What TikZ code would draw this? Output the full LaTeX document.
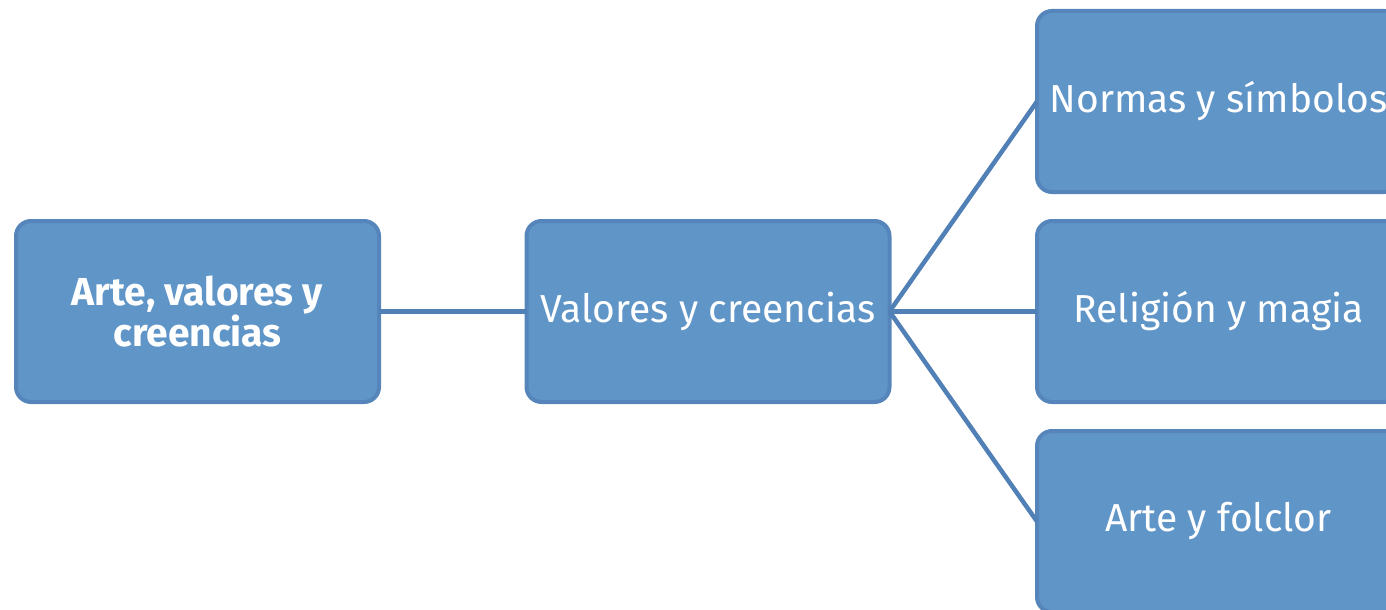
\documentclass[tikz,border=0pt]{standalone}
\usepackage{fontspec}
\setmainfont{Fira Sans}
\definecolor{boxfill}{HTML}{6095C8}
\definecolor{boxline}{HTML}{5585BA}
\definecolor{linkline}{HTML}{5080B5}

\begin{document}
\begin{tikzpicture}[x=1pt,y=-1pt]

      \useasboundingbox (0,0) rectangle (1386,610);
      \clip (0,0) rectangle (1386,610);

      \begin{scope}[every node/.style={rectangle,rounded corners=15pt,draw=boxline,line width=4pt,
          fill=boxfill,text=white,minimum width=363pt,minimum height=181pt,outer sep=0pt,
          align=center,font=\fontsize{39}{40}\selectfont}]
        \node (arte)     at (197.5,311.5)  {\bfseries Arte, valores y\\\bfseries creencias};
        \node (valores)  at (708,311.5)    {Valores y creencias};
        \node (normas)   at (1218.5,101.5) {Normas y símbolos};
        \node (religion) at (1218.5,311.5) {Religión y magia};
        \node (folclor)  at (1218.5,521.5) {Arte y folclor};
      \end{scope}

      \begin{scope}[every edge/.style={draw=linkline,line width=4.5pt}]
        \path (arte.east)    edge (valores.west);
        \path (valores.east) edge (normas.west);
        \path (valores.east) edge (religion.west);
        \path (valores.east) edge (folclor.west);
      \end{scope}

    \end{tikzpicture}
\end{document}
